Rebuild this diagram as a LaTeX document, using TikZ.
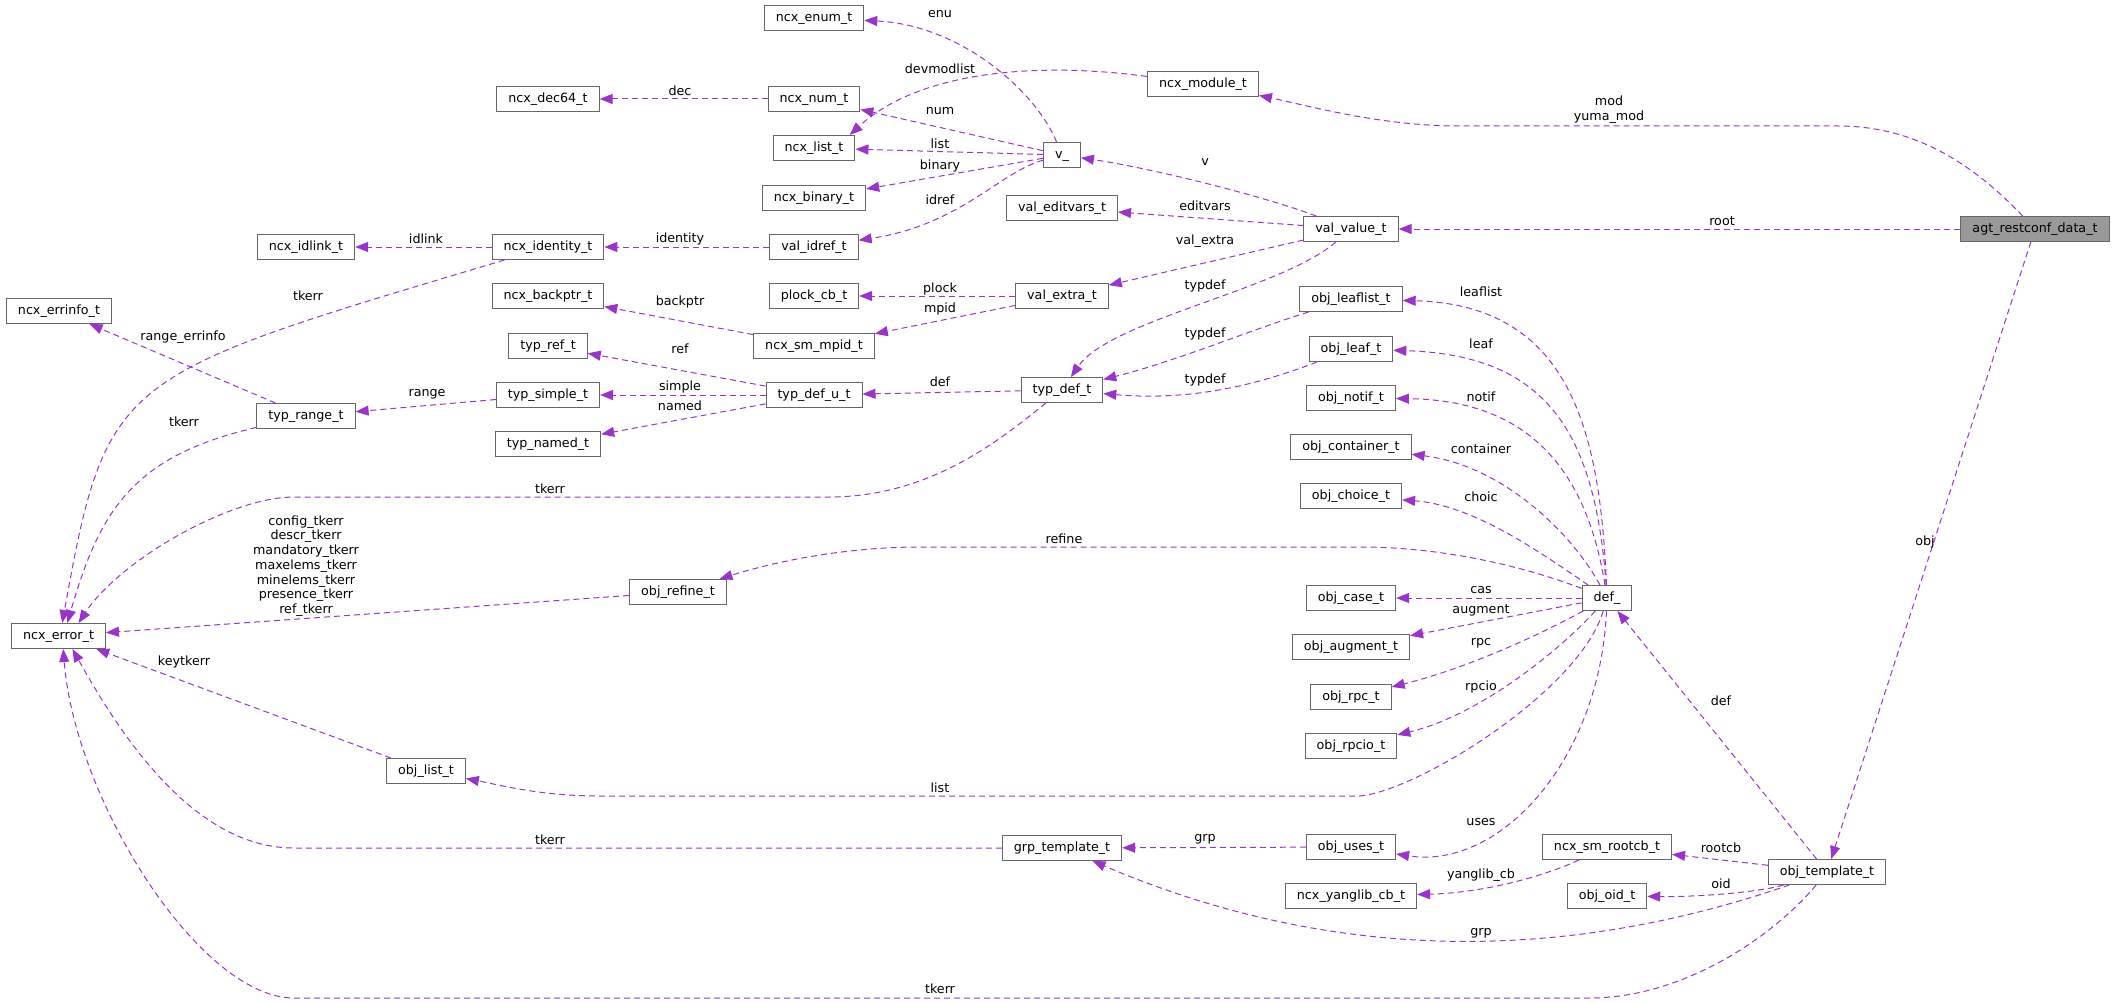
\documentclass[tikz,border=0pt]{standalone}
\usepackage{fontspec}
\setmainfont{DejaVu Sans}
\usetikzlibrary{arrows.meta}
\definecolor{edgepurple}{HTML}{9A32CD}
\definecolor{boxgray}{HTML}{666666}
\definecolor{mainfill}{HTML}{999999}

\begin{document}
\begin{tikzpicture}[
    x=1pt, y=-1pt,
    font=\fontsize{12.7}{14.7}\selectfont,
    box/.style={draw=boxgray, fill=white, line width=1pt, minimum height=25pt,
        inner xsep=11.5pt, inner ysep=0pt, text height=9.3pt, text depth=2.7pt},
    mainbox/.style={box, fill=mainfill},
    edge/.style={draw=edgepurple, line width=1pt, dash pattern=on 6pt off 4pt,
        -{Triangle[length=13pt,width=10pt]}},
    lbl/.style={inner sep=0pt, align=center}
]
\useasboundingbox (0,0) rectangle (2116,1003);

% Nodes
\node[box] (enumt) at (814,18) {ncx\_enum\_t};
\node[box] (modulet) at (1203,84) {ncx\_module\_t};
\node[box] (dec64) at (548,99) {ncx\_dec64\_t};
\node[box] (numt) at (814,99) {ncx\_num\_t};
\node[box] (listt) at (814,148) {ncx\_list\_t};
\node[box] (vu) at (1062,155) {v\_};
\node[box] (binaryt) at (814,198) {ncx\_binary\_t};
\node[box] (editvars) at (1062,208) {val\_editvars\_t};
\node[box] (valvalue) at (1351,229) {val\_value\_t};
\node[mainbox] (agt) at (2035,229) {agt\_restconf\_data\_t};
\node[box] (idlink) at (306,247) {ncx\_idlink\_t};
\node[box] (identity) at (548,247) {ncx\_identity\_t};
\node[box] (idref) at (814,247) {val\_idref\_t};
\node[box] (errinfo) at (59,311) {ncx\_errinfo\_t};
\node[box] (backptr) at (548,296) {ncx\_backptr\_t};
\node[box] (plock) at (814,296) {plock\_cb\_t};
\node[box] (valextra) at (1062,296) {val\_extra\_t};
\node[box] (leaflist) at (1351,299) {obj\_leaflist\_t};
\node[box] (typref) at (548,346) {typ\_ref\_t};
\node[box] (mpid) at (814,346) {ncx\_sm\_mpid\_t};
\node[box] (leaf) at (1351,349) {obj\_leaf\_t};
\node[box] (typsimple) at (548,395) {typ\_simple\_t};
\node[box] (typdefu) at (814,395) {typ\_def\_u\_t};
\node[box] (typdef) at (1062,390) {typ\_def\_t};
\node[box] (typrange) at (306,416) {typ\_range\_t};
\node[box] (notif) at (1351,398) {obj\_notif\_t};
\node[box] (typnamed) at (548,444) {typ\_named\_t};
\node[box] (container) at (1351,447) {obj\_container\_t};
\node[box] (choice) at (1351,496) {obj\_choice\_t};
\node[box] (refine) at (678,592) {obj\_refine\_t};
\node[box] (errort) at (58.5,636) {ncx\_error\_t};
\node[box] (caset) at (1351,598) {obj\_case\_t};
\node[box] (defu) at (1607,598) {def\_};
\node[box] (augment) at (1351,647) {obj\_augment\_t};
\node[box] (rpct) at (1351,697) {obj\_rpc\_t};
\node[box] (rpcio) at (1351,746) {obj\_rpcio\_t};
\node[box] (objlist) at (426,771) {obj\_list\_t};
\node[box] (grptmpl) at (1062,848) {grp\_template\_t};
\node[box] (uses) at (1351,847) {obj\_uses\_t};
\node[box] (rootcb) at (1607,847) {ncx\_sm\_rootcb\_t};
\node[box] (tmpl) at (1827,872) {obj\_template\_t};
\node[box] (yanglib) at (1351,896) {ncx\_yanglib\_cb\_t};
\node[box] (oid) at (1607,896) {obj\_oid\_t};

% Edges (agt_restconf_data_t)
\draw[edge] (agt) .. controls (1960,150) and (1900,126) .. (1838,126) -- (1460,126)
    .. controls (1380,126) and (1310,106) .. (modulet);
\draw[edge] (agt) -- (valvalue);
\draw[edge] (agt) -- (tmpl);

% Edges (values)
\draw[edge] (valvalue) .. controls (1260,195) and (1150,168) .. (vu);
\draw[edge] (valvalue) -- (editvars);
\draw[edge] (valvalue) -- (valextra);
\draw[edge] (valvalue) .. controls (1280,290) and (1110,320) .. (typdef);
\draw[edge] (vu) .. controls (1035,90) and (960,25) .. (enumt);
\draw[edge] (modulet) .. controls (1040,62) and (920,70) .. (listt.20);
\draw[edge] (vu) -- (numt);
\draw[edge] (vu) -- (listt);
\draw[edge] (vu) -- (binaryt);
\draw[edge] (vu) .. controls (1000,172) and (960,225) .. (idref);
\draw[edge] (numt) -- (dec64);
\draw[edge] (idref) -- (identity);
\draw[edge] (identity) -- (idlink);
\draw[edge] (valextra) -- (plock);
\draw[edge] (valextra) -- (mpid);
\draw[edge] (mpid) -- (backptr);

% Edges (types)
\draw[edge] (typdef) -- (typdefu);
\draw[edge] (typdefu) -- (typref);
\draw[edge] (typdefu) -- (typsimple);
\draw[edge] (typdefu) -- (typnamed);
\draw[edge] (typsimple) -- (typrange);
\draw[edge] (typrange) -- (errinfo);
\draw[edge] (leaflist) .. controls (1250,330) and (1180,360) .. (typdef);
\draw[edge] (leaf) .. controls (1270,380) and (1200,402) .. (typdef);

% Edges (def_)
\draw[edge] (defu) .. controls (1600,430) and (1570,305) .. (leaflist);
\draw[edge] (defu) .. controls (1595,430) and (1545,355) .. (leaf);
\draw[edge] (defu) .. controls (1585,460) and (1520,400) .. (notif);
\draw[edge] (defu) .. controls (1570,530) and (1500,465) .. (container);
\draw[edge] (defu) .. controls (1530,545) and (1470,505) .. (choice);
\draw[edge] (defu) .. controls (1520,565) and (1440,547) .. (1360,547) -- (920,547)
    .. controls (850,547) and (780,560) .. (refine);
\draw[edge] (defu) -- (caset);
\draw[edge] (defu) -- (augment);
\draw[edge] (defu) .. controls (1530,640) and (1460,670) .. (rpct);
\draw[edge] (defu) .. controls (1560,650) and (1480,715) .. (rpcio);
\draw[edge] (defu) .. controls (1580,690) and (1420,790) .. (1360,796) -- (600,796)
    .. controls (540,796) and (500,785) .. (objlist);
\draw[edge] (defu) .. controls (1600,760) and (1500,870) .. (uses);

% Edges (obj_template_t)
\draw[edge] (uses) -- (grptmpl);
\draw[edge] (tmpl) -- (rootcb);
\draw[edge] (rootcb) .. controls (1540,878) and (1480,893) .. (yanglib);
\draw[edge] (tmpl) .. controls (1760,892) and (1700,897) .. (oid);
\draw[edge] (tmpl) -- (defu);
\draw[edge] (tmpl) .. controls (1557,965) and (1328,961) .. (grptmpl);

% Edges (into ncx_error_t)
\draw[edge] (identity) .. controls (116,376) and (107,374) .. (errort.74);
\draw[edge] (typrange) .. controls (133,456) and (100,510) .. (errort.56);
\draw[edge] (typdef) .. controls (1000,440) and (930,497) .. (829,497) -- (294,497)
    .. controls (230,497) and (120,560) .. (errort.33);
\draw[edge] (refine) -- (errort);
\draw[edge] (objlist) -- (errort.-19);
\draw[edge] (grptmpl) -- (294,848) .. controls (194,848) and (121,736) .. (errort.-43);
\draw[edge] (tmpl) .. controls (1770,940) and (1680,998) .. (1590,998) -- (294,998)
    .. controls (200,998) and (75,800) .. (errort.-70);

% Labels
\node[lbl] (l_enu) at (940,14) {enu};
\node[lbl] (l_devmod) at (940,69) {devmodlist};
\node[lbl] (l_dec) at (680,91) {dec};
\node[lbl] (l_num) at (940,111) {num};
\node[lbl] (l_list) at (940,144) {list};
\node[lbl] (l_binary) at (940,166) {binary};
\node[lbl] (l_idref) at (940,200) {idref};
\node[lbl] (l_idlink) at (426,239) {idlink};
\node[lbl] (l_identity) at (680,239) {identity};
\node[lbl] (l_tkerr1) at (308,296) {tkerr};
\node[lbl] (l_rerrinfo) at (183,337) {range\_errinfo};
\node[lbl] (l_backptr) at (680,302) {backptr};
\node[lbl] (l_ref) at (680,349) {ref};
\node[lbl] (l_range) at (427,394) {range};
\node[lbl] (l_simple) at (680,387) {simple};
\node[lbl] (l_named) at (680,406) {named};
\node[lbl] (l_tkerr2) at (184,422) {tkerr};
\node[lbl] (l_tkerr3) at (550,489) {tkerr};
\node[lbl] (l_v) at (1205,162) {v};
\node[lbl] (l_editvars) at (1205,206) {editvars};
\node[lbl] (l_valextra) at (1205,241) {val\_extra};
\node[lbl] (l_plock) at (940,289) {plock};
\node[lbl] (l_mpid) at (940,309) {mpid};
\node[lbl] (l_typdef1) at (1205,286) {typdef};
\node[lbl] (l_typdef2) at (1205,334) {typdef};
\node[lbl] (l_typdef3) at (1205,380) {typdef};
\node[lbl] (l_def1) at (940,382) {def};
\node[lbl] (l_mod) at (1609,110) {mod\\yuma\_mod};
\node[lbl] (l_root) at (1722,221) {root};
\node[lbl] (l_leaflist) at (1481,292) {leaflist};
\node[lbl] (l_leaf) at (1481,344) {leaf};
\node[lbl] (l_notif) at (1481,397) {notif};
\node[lbl] (l_container) at (1481,449) {container};
\node[lbl] (l_choic) at (1481,497) {choic};
\node[lbl] (l_refine) at (1064,539) {refine};
\node[lbl] (l_tkerrs) at (306,566) {config\_tkerr\\descr\_tkerr\\mandatory\_tkerr\\maxelems\_tkerr\\minelems\_tkerr\\presence\_tkerr\\ref\_tkerr};
\node[lbl] (l_cas) at (1481,590) {cas};
\node[lbl] (l_augment) at (1481,610) {augment};
\node[lbl] (l_rpc) at (1481,643) {rpc};
\node[lbl] (l_rpcio) at (1481,687) {rpcio};
\node[lbl] (l_keytkerr) at (184,662) {keytkerr};
\node[lbl] (l_def2) at (1721,701) {def};
\node[lbl] (l_obj) at (1925,542) {obj};
\node[lbl] (l_list2) at (940,788) {list};
\node[lbl] (l_uses) at (1481,822) {uses};
\node[lbl] (l_tkerr4) at (550,840) {tkerr};
\node[lbl] (l_grp1) at (1205,839) {grp};
\node[lbl] (l_rootcb) at (1721,848) {rootcb};
\node[lbl] (l_yanglib) at (1481,875) {yanglib\_cb};
\node[lbl] (l_oid) at (1721,884) {oid};
\node[lbl] (l_grp2) at (1481,933) {grp};
\node[lbl] (l_tkerr5) at (940,989) {tkerr};

\end{tikzpicture}
\end{document}
